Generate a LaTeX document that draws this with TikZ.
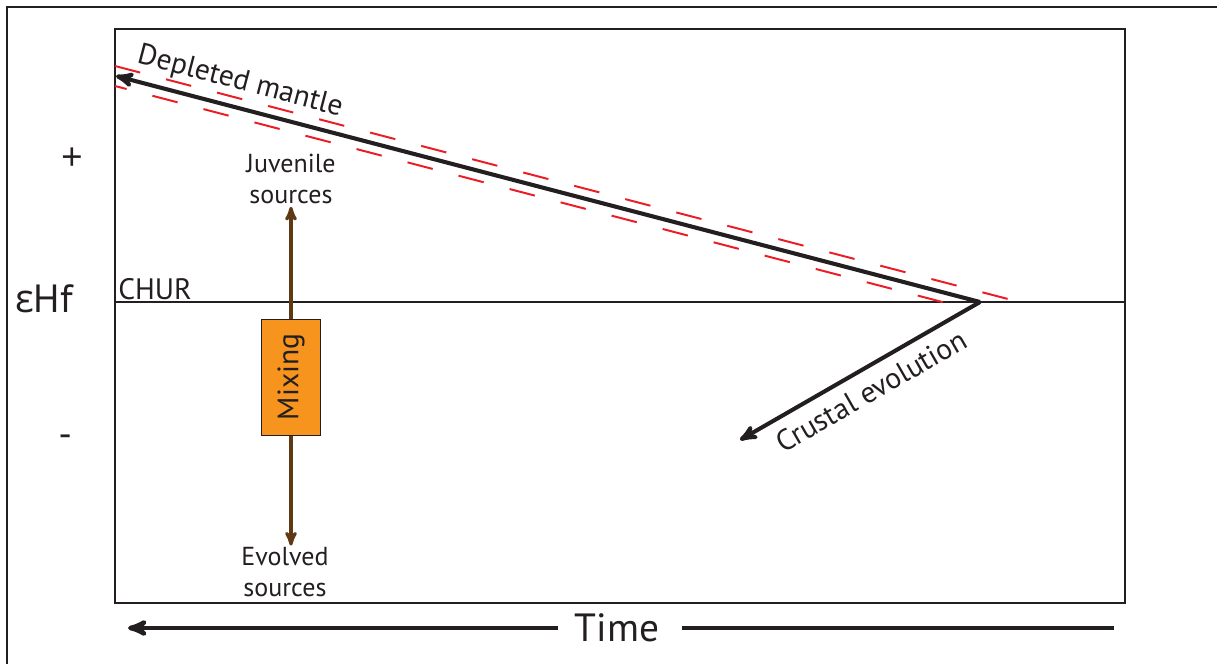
\documentclass[tikz,border=0pt]{standalone}
\usepackage{fontspec}
\setmainfont{PT Sans}
\newfontfamily\grkfont{Open Sans}
\usepackage{tikz}
\usetikzlibrary{positioning,arrows}
\definecolor{ink}{RGB}{35,31,32}
\definecolor{dmred}{RGB}{237,28,36}
\definecolor{mixorange}{RGB}{247,148,29}
\definecolor{mixbrown}{RGB}{96,56,19}
\tikzset{
  frame/.style   = {draw=ink, line width=2pt},
  trend/.style   = {->, >=stealth', draw=ink, line width=2.9pt},
  band/.style    = {draw=dmred, line width=1.4pt, dash pattern=on 18.5pt off 19pt},
  mixbox/.style  = {draw=ink, line width=0.7pt, fill=mixorange, text=ink,
                    minimum width=42pt, minimum height=82.5pt, inner sep=0pt,
                    font=\fontsize{21}{24}\selectfont},
  source/.style  = {align=center, inner sep=0pt, text=ink,
                    font=\fontsize{18.5}{22}\selectfont},
  mixarrow/.style = {->, >=stealth', draw=mixbrown, line width=2.2pt},
  lbl/.style     = {text=ink, inner sep=0pt, font=\fontsize{21}{25}\selectfont},
  big/.style     = {text=ink, inner sep=0pt, font=\fontsize{28}{32}\selectfont},
  sign/.style    = {text=ink, inner sep=0pt, font=\grkfont\fontsize{27}{30}\selectfont},
  timeline/.style = {draw=ink, line width=3.2pt}
}
\begin{document}
\begin{tikzpicture}[x=0.025cm, y=-0.025cm]
  \useasboundingbox (0,0) rectangle (1217,664);
  \draw[ink, line width=1.4pt] (7,664) -- (7,7) -- (1217,7);
  \draw[frame] (115,29) rectangle (1125,603);
  \coordinate (apex) at (980,302);
  \coordinate (dm) at (116,76);
  \coordinate (ce) at (740,440);
  \coordinate (tl) at (128,628);
  \coordinate (tr) at (1114,628);
  % axis
  \node[sign] (plus) at (72,159) {+};
  \node[big] (ehf) at (44,299) {{\grkfont ε}Hf};
  \node[sign] (minus) at (66,441) {-};
  \draw[ink, line width=1.2pt] (115,302) -- (1125,302);
  \node[lbl, anchor=base west] (chur) at (118,299) {CHUR};
  % depleted mantle and crust
  \draw[band] (115,66) -- (1008,299);
  \draw[band, dash phase=10pt] (115,86) -- (950,304);
  \draw[trend] (apex) -- (dm);
  \draw[trend] (apex) -- (ce);
  \node[lbl, rotate=-14.7] (dmlabel) at (240,82) {Depleted mantle};
  \node[lbl, rotate=29.9] (celabel) at (871,391) {Crustal evolution};
  % mixing
  \node[mixbox] (mix) at (291,377) {\rotatebox{90}{Mixing}};
  \node[source, anchor=south] (juv) at (291,204) {Juvenile\\sources};
  \node[source, anchor=north] (evo) at (285,547) {Evolved\\sources};
  \draw[mixarrow] (mix.north) -- ([yshift=-2pt]mix.north |- juv.south);
  \draw[mixarrow] (mix.south) -- ([yshift=1pt]mix.south |- evo.north);
  % time
  \node[big] (time) at (617,628) {Time};
  \draw[timeline, ->, >=stealth', shorten <=12pt] (time.west) -- (tl);
  \draw[timeline, shorten <=16pt] (time.east) -- (tr);
\end{tikzpicture}
\end{document}
